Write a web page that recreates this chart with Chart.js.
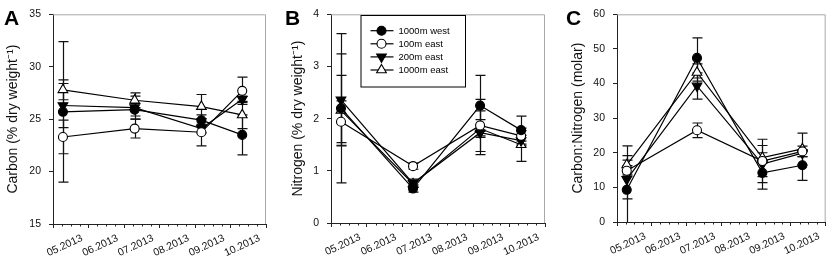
<!DOCTYPE html>
<html>
<head>
<meta charset="UTF-8" />
<title>Carbon, Nitrogen and C:N</title>
<script src="https://cdn.jsdelivr.net/npm/chart.js"></script>
<style>
  body {
    margin: 0;
    background: #fff;
    width: 835px;
    height: 263px;
    position: relative;
    overflow: hidden;
    font-family: "Liberation Sans", Arial, sans-serif;
  }
  .panel { position: absolute; top: 0; height: 263px; }
  .letter { position: absolute; top: 7px; font-weight: bold; font-size: 21px; line-height: 1; color: #000; }
</style>
</head>
<body>
  <div class="panel" style="left:0;width:280px"><canvas id="chartA" width="280" height="263"></canvas></div>
  <div class="panel" style="left:280px;width:275px"><canvas id="chartB" width="275" height="263"></canvas></div>
  <div class="panel" style="left:555px;width:280px"><canvas id="chartC" width="280" height="263"></canvas></div>
  <div class="letter" style="left:4px">A</div>
  <div class="letter" style="left:285px">B</div>
  <div class="letter" style="left:566px">C</div>

  <script>
    // sampling dates in month units (4 = start of April 2013)
    const sampleX = [4.28, 6.3, 8.18, 9.33];
    const tickMonths = [5, 6, 7, 8, 9, 10];
    const tickLabels = ['05.2013', '06.2013', '07.2013', '08.2013', '09.2013', '10.2013'];
    const seriesNames = ['1000m west', '100m east', '200m east', '1000m east'];

    // A: carbon (% dry weight)
    const carbonWest = [25.7, 25.9, 24.9, 23.5];
    const carbonWestErr = [6.7, 0.6, 0.5, 1.9];
    const carbon100 = [23.3, 24.1, 23.75, 27.7];
    const carbon100Err = [1.6, 0.9, 1.3, 1.3];
    const carbon200 = [26.3, 26.1, 24.1, 26.9];
    const carbon200Err = [2.1, 1.1, 0.4, 0.3];
    const carbon1000 = [27.8, 26.8, 26.2, 25.4];
    const carbon1000Err = [0.95, 0.7, 1.15, 1.3];

    // B: nitrogen (% dry weight)
    const nitroWest = [2.2, 0.66, 2.25, 1.78];
    const nitroWestErr = [1.43, 0.07, 0.58, 0.27];
    const nitro100 = [1.94, 1.09, 1.87, 1.67];
    const nitro100Err = [0.4, 0.06, 0.5, 0.1];
    const nitro200 = [2.36, 0.76, 1.73, 1.58];
    const nitro200Err = [0.88, 0.08, 0.42, 0.1];
    const nitro1000 = [2.16, 0.75, 1.81, 1.5];
    const nitro1000Err = [0.67, 0.07, 0.17, 0.32];

    // C: carbon:nitrogen (molar)
    const cnWest = [9.3, 47.4, 14.2, 16.4];
    const cnWestErr = [12.7, 5.8, 2.8, 4.4];
    const cn100 = [14.8, 26.5, 17.6, 20.4];
    const cn100Err = [1.5, 2.1, 4.5, 1.5];
    const cn200 = [12.3, 39.3, 16.7, 19.9];
    const cn200Err = [5.6, 3.8, 7.2, 1.0];
    const cn1000 = [16.5, 43.2, 18.6, 21.1];
    const cn1000Err = [2.7, 2.5, 1.4, 4.6];

    const markers = [
      { style: 'circle', fill: '#000', rot: 0, r: 4.5 },
      { style: 'circle', fill: '#fff', rot: 0, r: 4.5 },
      { style: 'triangle', fill: '#000', rot: 180, r: 5.6 },
      { style: 'triangle', fill: '#fff', rot: 0, r: 5.6 }
    ];

    function buildSets(values, errors) {
      return values.map((vals, k) => ({
        label: seriesNames[k],
        data: sampleX.map((x, i) => ({ x: x, y: vals[i] })),
        errors: errors[k],
        borderColor: '#000',
        borderWidth: 1.2,
        backgroundColor: markers[k].fill,
        pointStyle: markers[k].style,
        pointRotation: markers[k].rot,
        pointRadius: markers[k].r,
        pointBorderWidth: 1.1,
        pointBorderColor: '#000',
        pointBackgroundColor: markers[k].fill,
        tension: 0,
        fill: false
      }));
    }

    // grey top and right edges of the plot frame
    const frame = {
      id: 'frame',
      beforeDatasetsDraw(chart) {
        const { ctx, chartArea: a } = chart;
        ctx.save();
        ctx.strokeStyle = '#a8a8a8';
        ctx.lineWidth = 1;
        ctx.beginPath();
        ctx.moveTo(a.left, a.top + 0.5);
        ctx.lineTo(a.right - 0.5, a.top + 0.5);
        ctx.lineTo(a.right - 0.5, a.bottom);
        ctx.stroke();
        ctx.restore();
      }
    };

    const errorBars = {
      id: 'errorBars',
      beforeDatasetsDraw(chart) {
        const { ctx, chartArea: a, scales: { x, y } } = chart;
        ctx.save();
        ctx.beginPath();
        ctx.rect(a.left, a.top, a.right - a.left, a.bottom - a.top);
        ctx.clip();
        ctx.strokeStyle = '#111';
        ctx.lineWidth = 1.2;
        chart.data.datasets.forEach(ds => {
          ds.data.forEach((p, i) => {
            const e = ds.errors[i];
            const px = Math.round(x.getPixelForValue(p.x)) + 0.5;
            const top = y.getPixelForValue(p.y + e);
            const bot = y.getPixelForValue(p.y - e);
            ctx.beginPath();
            ctx.moveTo(px, top); ctx.lineTo(px, bot);
            ctx.moveTo(px - 5, top); ctx.lineTo(px + 5, top);
            ctx.moveTo(px - 5, bot); ctx.lineTo(px + 5, bot);
            ctx.stroke();
          });
        });
        ctx.restore();
      }
    };

    const minorTicks = {
      id: 'minorTicks',
      afterDraw(chart) {
        const { ctx, chartArea: a, scales: { x } } = chart;
        ctx.save();
        ctx.strokeStyle = '#222';
        ctx.lineWidth = 1;
        for (let v = x.min + 0.25; v < x.max; v += 0.25) {
          if (Math.abs(v - Math.round(v)) < 0.01) continue;
          const px = Math.round(x.getPixelForValue(v)) + 0.5;
          ctx.beginPath();
          ctx.moveTo(px, a.bottom);
          ctx.lineTo(px, a.bottom + 2.5);
          ctx.stroke();
        }
        ctx.restore();
      }
    };

    const boxLegend = {
      id: 'boxLegend',
      afterDatasetsDraw(chart, args, o) {
        if (!o.show) return;
        const { ctx } = chart;
        ctx.save();
        ctx.fillStyle = '#fff';
        ctx.fillRect(o.left, o.top, o.width, o.height);
        ctx.strokeStyle = '#000';
        ctx.lineWidth = 1;
        ctx.strokeRect(o.left + 0.5, o.top + 0.5, o.width, o.height);
        ctx.font = '9.5px "Liberation Sans", Arial, sans-serif';
        ctx.textBaseline = 'middle';
        chart.data.datasets.forEach((ds, i) => {
          const cy = o.top + o.firstRow + i * o.rowGap;
          ctx.strokeStyle = '#000';
          ctx.lineWidth = 1.2;
          ctx.beginPath();
          ctx.moveTo(o.left + 10, cy);
          ctx.lineTo(o.left + 33, cy);
          ctx.stroke();
          ctx.fillStyle = ds.pointBackgroundColor;
          ctx.lineWidth = 1.1;
          Chart.helpers.drawPoint(ctx, {
            pointStyle: ds.pointStyle,
            rotation: ds.pointRotation,
            radius: ds.pointRadius,
            borderWidth: 1.1
          }, o.left + 21, cy);
          ctx.fillStyle = '#000';
          ctx.fillText(ds.label, o.left + 38, cy + 0.5);
        });
        ctx.restore();
      }
    };

    const fontFamily = '"Liberation Sans", Arial, sans-serif';

    function makeChart(id, p) {
      return new Chart(document.getElementById(id), {
        type: 'line',
        data: { datasets: buildSets(p.values, p.errors) },
        options: {
          responsive: false,
          animation: false,
          layout: { padding: { top: p.top, right: p.right, left: 0, bottom: 0 } },
          plugins: {
            legend: { display: false },
            tooltip: { enabled: false },
            boxLegend: p.legend || { show: false }
          },
          scales: {
            x: {
              type: 'linear',
              min: 4,
              max: 10,
              afterFit: s => { s.height = p.xh; },
              border: { color: '#222', width: 1 },
              grid: { drawOnChartArea: false, tickLength: 4, color: '#222' },
              ticks: {
                stepSize: 1,
                autoSkip: false,
                minRotation: 25,
                maxRotation: 25,
                padding: 4,
                labelOffset: -6.5,
                color: '#111',
                font: { family: fontFamily, size: 10.5 },
                callback: v => {
                  const i = tickMonths.indexOf(Math.round(v));
                  return i >= 0 && Math.abs(v - Math.round(v)) < 1e-6 ? tickLabels[i] : '';
                }
              }
            },
            y: {
              min: p.min,
              max: p.max,
              afterFit: s => { s.width = p.yw; },
              border: { color: '#222', width: 1 },
              grid: { drawOnChartArea: false, tickLength: 4, color: '#222' },
              ticks: { stepSize: p.step, padding: 8, color: '#111', font: { family: fontFamily, size: 10.5 } },
              title: {
                display: true,
                text: p.title,
                color: '#111',
                font: { family: fontFamily, size: 14 },
                padding: { top: p.titlePad, bottom: 0 }
              }
            }
          }
        },
        plugins: [frame, errorBars, minorTicks, boxLegend]
      });
    }

    makeChart('chartA', {
      values: [carbonWest, carbon100, carbon200, carbon1000],
      errors: [carbonWestErr, carbon100Err, carbon200Err, carbon1000Err],
      min: 15, max: 35, step: 5,
      title: 'Carbon (% dry weight\u207B\u00B9)',
      top: 10, right: 14, xh: 39, yw: 53, titlePad: 5
    });

    makeChart('chartB', {
      values: [nitroWest, nitro100, nitro200, nitro1000],
      errors: [nitroWestErr, nitro100Err, nitro200Err, nitro1000Err],
      min: 0, max: 4, step: 1,
      title: 'Nitrogen (% dry weight\u207B\u00B9)',
      top: 9.5, right: 10, xh: 40, yw: 51, titlePad: 10,
      legend: { show: true, left: 80.5, top: 15, width: 104.5, height: 71.5, firstRow: 15.7, rowGap: 13.1 }
    });

    makeChart('chartC', {
      values: [cnWest, cn100, cn200, cn1000],
      errors: [cnWestErr, cn100Err, cn200Err, cn1000Err],
      min: 0, max: 60, step: 10,
      title: 'Carbon:Nitrogen (molar)',
      top: 8.3, right: 5, xh: 41, yw: 62, titlePad: 14.5
    });
  </script>
</body>
</html>
